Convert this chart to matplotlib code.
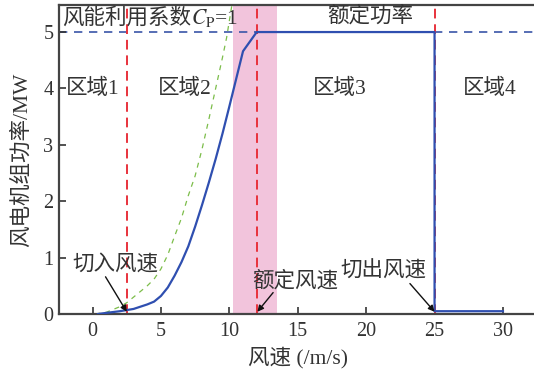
import numpy as np
import matplotlib.pyplot as plt

plt.rcParams['font.family'] = ['Liberation Serif', 'Noto Sans CJK SC']
plt.rcParams['mathtext.fontset'] = 'stix'

# blue: actual power curve
blue_x = [0.4, 1.0, 2.0, 2.5, 3.0, 3.5, 4.0, 4.5, 5.0, 5.5, 6.0, 6.5, 7.0, 7.5,
          8.0, 8.5, 9.0, 9.5, 10.0, 10.5, 11.0, 12.0, 25.0, 25.0, 30.0]
blue_y = [0.0, 0.02, 0.05, 0.07, 0.09, 0.13, 0.17, 0.22, 0.32, 0.47, 0.68, 0.92,
          1.2, 1.55, 1.93, 2.33, 2.75, 3.2, 3.68, 4.17, 4.66, 5.0, 5.0, 0.05, 0.05]

# green: Cp = 1 curve
green_x = [0.2, 1.0, 2.0, 2.5, 3.0, 3.5, 4.0, 4.5, 5.0, 5.5, 6.0, 6.5, 7.0, 7.5,
           8.0, 8.5, 9.0, 9.5, 9.8, 10.2]
green_y = [0.0, 0.03, 0.13, 0.2, 0.3, 0.4, 0.5, 0.62, 0.8, 1.05, 1.38, 1.7, 2.1,
           2.45, 2.92, 3.45, 4.0, 4.55, 4.9, 5.5]

rated_power = 5.0
cut_in, rated_speed, cut_out = 2.5, 12.0, 25.0
band = (10.3, 13.5)

fig = plt.figure(figsize=(5.34, 3.69), dpi=100)
ax = fig.add_axes([0.1105, 0.149, 0.95, 0.8375])

ax.axvspan(band[0], band[1], color='#f2c4dc', lw=0, zorder=0)
ax.axhline(rated_power, color='#3a55a8', ls=(0, (5, 4)), lw=1.2, zorder=1)
ax.plot(green_x, green_y, color='#7cbd4a', ls=(0, (4, 4)), lw=0.9, zorder=2)
for xv in (cut_in, rated_speed, cut_out):
    ax.axvline(xv, color='#e8323c', ls=(0, (5, 3)), lw=1.4, zorder=2)
ax.plot(blue_x, blue_y, color='#2f4fb0', lw=1.6, zorder=3)

ax.set_xlim(-2.45, 34.63)
ax.set_ylim(0, 5.48)
ax.set_xticks([0, 5, 10, 15, 20, 25, 30])
ax.set_yticks([0, 1, 2, 3, 4, 5])
ax.tick_params(direction='in', length=5, width=1.2, labelsize=14.5, colors='#333333',
               pad=6)
ax.tick_params(axis='y', pad=4)
for s in ('left', 'bottom', 'top'):
    ax.spines[s].set_linewidth(1.6)
    ax.spines[s].set_color('#444444')
ax.spines['right'].set_visible(False)

fs = 15.5
tc = '#333333'
ax.set_xlabel('风速 (/m/s)', fontsize=fs, color=tc)
ax.xaxis.set_label_coords(0.471, -0.105)
ax.set_ylabel('风电机组功率/MW', fontsize=fs, color=tc, labelpad=8)

t1 = ax.text(-2.25, 5.25, '风能利用系数', fontsize=fs, color=tc, va='center')
ax.annotate(r'$C_{\mathrm{P}}$=1', xy=(1, 0.5), xycoords=t1, fontsize=fs, color=tc,
            va='center', ha='left')
ax.text(20.3, 5.27, '额定功率', fontsize=fs, color=tc, ha='center', va='center')
ax.text(0.0, 4.0, '区域1', fontsize=fs, color=tc, ha='center', va='center')
ax.text(6.76, 4.0, '区域2', fontsize=fs, color=tc, ha='center', va='center')
ax.text(18.1, 4.0, '区域3', fontsize=fs, color=tc, ha='center', va='center')
ax.text(29.05, 4.0, '区域4', fontsize=fs, color=tc, ha='center', va='center')

ax.text(1.68, 0.88, '切入风速', fontsize=fs, color=tc, ha='center', va='center')
ax.text(14.8, 0.58, '额定风速', fontsize=fs, color=tc, ha='center', va='center')
ax.text(21.27, 0.75, '切出风速', fontsize=fs, color=tc, ha='center', va='center')

arrow = dict(arrowstyle='-|>', color='#111111', lw=1.0, mutation_scale=9,
             shrinkA=0, shrinkB=0)
ax.annotate('', xy=(2.5, 0.04), xytext=(0.95, 0.66), arrowprops=arrow)
ax.annotate('', xy=(12.05, 0.04), xytext=(13.2, 0.38), arrowprops=arrow)
ax.annotate('', xy=(25.0, 0.04), xytext=(23.2, 0.54), arrowprops=arrow)

fig.savefig('out.png', dpi=100)
